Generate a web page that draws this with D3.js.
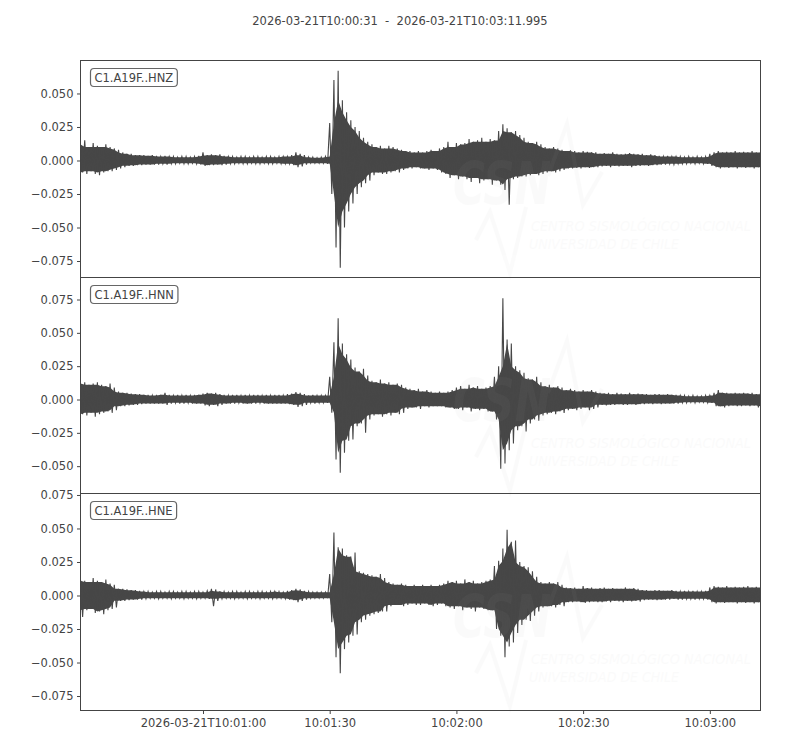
<!DOCTYPE html>
<html><head><meta charset="utf-8">
<script src="https://cdn.jsdelivr.net/npm/d3@7"></script>
<style>body{margin:0;background:#fff} text{font-family:"DejaVu Sans",sans-serif}</style>
</head><body><svg id="c" width="800" height="750"></svg>
<script>
// ---------- data (amplitudes in units of 0.001, one envelope sample per second) ----------
const TITLE = "2026-03-21T10:00:31  -  2026-03-21T10:03:11.995";
const UNIT = 0.001;
const SAMPLE_STEP_MS = 1000;
const channels = ["C1.A19F..HNZ", "C1.A19F..HNN", "C1.A19F..HNE"];

const hnzUpper = [12,15,10,13,11,10,12,10,9,8, 6,5,5,4,4,4,3.5,4,3.5,3,3.5, 3,3,2.5,3,3,2.5,3,3.5, 6, 4,4.5,4,4.5,3.5,
  3,3,2.5,3,3,2.5,3,3,2.5,3,3,2.5,3,3,3, 4,6,5,4, 2.5,2.5,2,2.5,3, 28,60,67,45,36,30,25,22,17,14,
  12,10,11,9,11,10,9, 8,7,7,6,7,6,7,8,7, 9,10,14,10,13,12, 13,16,14,15,17,14,16,15, 22,27,24, 21,22,19,17,
  14,13,14,12, 10,9,10,9,8, 7,7.5,7,6,7,6.5,6, 6,5,5.5,5,6,5,4.5,5,5.5,5,4.5,5,4,4.5,4,
  3.5,3,3.5,3,3,3,2.5,3,2.5,3,2.5,3, 5,6,7,6,6.5,6,7,6,6.5,6,7,6,6.5];
const hnzLower = [-9,-10,-8,-10,-11,-9,-8,-8,-7,-6, -5,-4,-4,-3.5,-3.5,-3,-3,-3,-3,-2.5,-3, -2.5,-2.5,-2,-2.5,-2.5,-2,-2.5,-3, -4,
  -3.5,-3.5,-3,-3.5,-3, -2.5,-2.5,-2,-2.5,-2.5,-2,-2.5,-2.5,-2,-2.5,-2.5,-2,-2.5,-2.5,-2.5, -3.5,-5,-4.5,-3, -2,-2,-2,-2,-2.5,
  -25,-65,-80,-50,-38,-32,-25,-20,-17,-15, -11,-9,-10,-10,-9,-8,-9, -7,-6,-6,-5,-6,-6,-7,-6,-7, -9,-10,-13,-11,-14,-12,
  -14,-16,-13,-17,-15,-14,-18,-15, -18,-22,-33, -14,-13,-12,-12, -11,-10,-11,-10, -9,-8,-9,-8,-7, -6,-6,-5.5,-6,-5,-5.5,-5,
  -5,-4.5,-4,-5,-4,-4.5,-4,-4,-5,-4,-4,-3.5,-4,-3.5,-3.5, -3,-3,-2.5,-3,-2.5,-2.5,-2.5,-2,-2.5,-2,-2.5,-2.5,
  -4,-5,-6,-5,-5.5,-5,-6,-5,-5.5,-5,-6,-5,-5.5];

const hnnUpper = [12,13,11,12,13,11,10,12,9, 6,5,5,4.5,4,4, 3.5,3.5,3,3.5,3.5, 5, 3.5,3,3.5,3,3.5,3,3.5,3.5, 4.5,5,4.5,5,4,
  3.5,3,3.5,3.5,3,3.5,3,3.5,3.5,3,3.5,3,3.5,3.5,3,4, 4.5,5.5,5,4, 3,3.5,3,3,3, 17,43,61,42,34,30,24,21,23,18,
  14,13,15,12,13,11,12,11, 9,8,7,8,6,7,6,5,6,5,6,7, 9,10,8,11,9,10,8,9,
  10,17,25,76,45,42,25,22,20,16,15,17,13, 10,11,9,10,9, 7,8,7,6,7,6,7,6,
  5,4.5,5,4,5,4.5,4,5,4,4.5,4,4,3.5,4,4,3.5,4,3.5,3.5, 3,3,2.5,3,2.5,2.5,3,3, 5,7,5,5,4.5,5,4.5,5,4.5,5,4,5];
const hnnLower = [-11,-12,-10,-13,-11,-10,-9,-10,-8, -5,-5,-4.5,-4,-4,-3.5, -3,-3,-3,-3,-3, -4, -3,-2.5,-3,-3,-2.5,-3,-3,-3,
  -4.5,-5,-4,-5,-4, -3,-3,-3,-2.5,-3,-3,-3,-3,-2.5,-3,-3,-3,-3,-3,-3,-3.5, -4,-5.5,-5,-4, -2.5,-3,-2.5,-2.5,-2.5,
  -10,-45,-55,-40,-31,-30,-20,-18,-25,-15, -12,-11,-13,-11,-12,-10,-11,-10, -7,-6,-6,-7,-5,-6,-5,-5,-5,-6,-6,-7,
  -7,-8,-6,-9,-7,-8,-7,-9, -9,-15,-52,-48,-38,-33,-23,-20,-24,-18,-15,-16,-12, -11,-10,-11,-9,-10, -8,-7,-8,-7,-6,-8,-7,-6,
  -4,-4.5,-4,-4,-3.5,-4,-4,-3.5,-4,-3.5,-3.5,-3,-3.5,-3,-3.5,-3,-3,-3,-3, -2.5,-2.5,-2,-2.5,-2,-2,-2.5,-2.5,
  -5,-5,-6,-5,-4.5,-5,-5,-4.5,-5,-4.5,-6,-5];

const hneUpper = [12,11,10,13,11,10,12,9,8, 5,5,4.5,4,4,3.5, 3,3,2.5,3,3,2.5,3,3,2.5,3,3,2.5,3,3,2.5,3.5, 5,4.5,
  3,3,2.5,3,3,2.5,3,3,2.5,3,3,2.5,3,3,3,2.5,3.5, 4,5,4.5,3.5, 3,2.5,2.5,2.5,2.5, 16,47,36,35,30,29,32,18,17,16,
  15,14,16,13, 10,9,8,9,8,7,8,7,8,7,8,7,8,9, 11,10,11,9,12,10,11,9,10,11,12, 22,26,35,49,40,41,25,22,21,18,14,
  10,9,10,9,10,8, 6,5.5,6,5,7,5.5,6,5,5.5,6,5,5.5,5,5,6,5,5.5,5, 4,4,3.5,4,4,3.5,3.5,4,3.5,3,3.5,3,3.5,3,3,3.5,
  6,7,6.5,6,7,6,6.5,6,6.5,7,6,6.5,6];
const hneLower = [-16,-11,-10,-13,-12,-14,-11,-10,-9, -4,-4,-3.5,-3,-3,-3, -2.5,-2,-2,-2.5,-2,-2,-2.5,-2,-2,-2.5,-2,-2,-2.5,-2,-2,-2.5,
  -8,-4, -2.5,-2,-2,-2.5,-2,-2,-2.5,-2,-2,-2.5,-2,-2,-2.5,-2,-2,-2.5,-3, -3.5,-5,-4,-3, -2,-2,-2,-2,-2,
  -20,-46,-58,-40,-35,-30,-29,-20,-18,-15, -14,-13,-12,-12, -8,-7,-7,-8,-7,-6,-7,-7,-6,-7,-8,-7,-6,-8,
  -9,-10,-8,-11,-9,-10,-12,-9,-10,-11,-11, -25,-30,-46,-38,-35,-28,-22,-18,-19,-15,-12, -9,-8,-8,-9,-7,-8,
  -5,-5,-4.5,-5,-5.5,-5,-4.5,-5,-5,-4.5,-5,-4,-4.5,-5,-4,-4.5,-4,-4.5,
  -3.5,-3,-3,-3.5,-3,-3,-3,-2.5,-3,-3,-2.5,-2.5,-3,-2.5,-2.5,-3, -5,-6,-5,-5.5,-5,-5,-6,-5,-5.5,-5,-6,-5,-5.5];

const upperSeries = [hnzUpper, hnnUpper, hneUpper];
const lowerSeries = [hnzLower, hnnLower, hneLower];
const yTickValues = [
  [0.050, 0.025, 0.000, -0.025, -0.050, -0.075],
  [0.075, 0.050, 0.025, 0.000, -0.025, -0.050],
  [0.075, 0.050, 0.025, 0.000, -0.025, -0.050, -0.075]
];
const yDomains = [[-0.0873, 0.0746], [-0.0705, 0.0915], [-0.0858, 0.0761]];
const xTickLabels = ["2026-03-21T10:01:00", "10:01:30", "10:02:00", "10:02:30", "10:03:00"];
const xTickTimes = ["2026-03-21T10:01:00Z", "2026-03-21T10:01:30Z", "2026-03-21T10:02:00Z", "2026-03-21T10:02:30Z", "2026-03-21T10:03:00Z"];
const startTime = "2026-03-21T10:00:31Z", endTime = "2026-03-21T10:03:11.995Z";

// ---------- layout ----------
const svg = d3.select("#c");
const left = 80.5, right = 760.5;
const panelTops = [60.5, 277.5, 493.5], panelBottom = 710.5;
const ink = "#444444", wave = "#474747";
const fontSize = 11.5;

const x = d3.scaleUtc().domain([new Date(startTime), new Date(endTime)]).range([left, right]);
const t0 = +new Date(startTime);

svg.append("text").attr("x", 400).attr("y", 25).attr("text-anchor", "middle")
  .attr("font-size", fontSize).attr("fill", ink).attr("xml:space", "preserve").text(TITLE);

const defs = svg.append("defs");

channels.forEach((name, k) => {
  const top = panelTops[k];
  const bottom = k < 2 ? panelTops[k + 1] : panelBottom;
  const y = d3.scaleLinear().domain(yDomains[k]).range([bottom, top]);
  const up = upperSeries[k], lo = lowerSeries[k];
  const n = up.length;
  const pts = up.map((u, i) => {
    const a = Math.max(0, i - 1), b = Math.min(n - 1, i + 1);
    return {
      t: t0 + i * SAMPLE_STEP_MS,
      u: u * UNIT, l: lo[i] * UNIT,
      cu: d3.min(up.slice(a, b + 1)) * UNIT,   // solid body: smallest neighbouring peak
      cl: d3.max(lo.slice(a, b + 1)) * UNIT
    };
  });

  defs.append("clipPath").attr("id", "clip" + k).append("rect")
    .attr("x", left).attr("y", top).attr("width", right - left).attr("height", bottom - top);

  const g = svg.append("g").attr("clip-path", `url(#clip${k})`);
  g.append("path").datum(pts)
    .attr("d", d3.area().x(d => x(new Date(d.t))).y0(d => y(d.cl)).y1(d => y(d.cu)))
    .attr("fill", wave);
  const zig = [];
  pts.forEach(d => { zig.push([d.t, d.u]); zig.push([d.t + SAMPLE_STEP_MS / 2, d.l]); });
  g.append("path").datum(zig)
    .attr("d", d3.line().x(d => x(new Date(d[0]))).y(d => y(d[1])))
    .attr("fill", "none").attr("stroke", wave).attr("stroke-width", 1.1);

  // faint watermark over the trace
  const wm = svg.append("g").attr("fill", "#b0b0b0").attr("opacity", 0.05);
  const oy = top - 60.5;
  wm.append("text").attr("x", 453).attr("y", oy + 204).attr("font-size", 58).attr("font-weight", "bold")
    .attr("font-style", "italic").attr("textLength", 98).attr("lengthAdjust", "spacingAndGlyphs").text("CSN");
  wm.append("text").attr("x", 531).attr("y", oy + 231).attr("font-size", 14).attr("font-style", "italic")
    .attr("textLength", 220).attr("lengthAdjust", "spacingAndGlyphs").text("CENTRO SISMOLÓGICO NACIONAL");
  wm.append("text").attr("x", 529).attr("y", oy + 249).attr("font-size", 14).attr("font-style", "italic")
    .attr("textLength", 150).attr("lengthAdjust", "spacingAndGlyphs").text("UNIVERSIDAD DE CHILE");
  wm.append("path").attr("fill", "none").attr("stroke", "#b0b0b0").attr("stroke-width", 4)
    .attr("d", `M476,${oy+240} L490,${oy+212} L510,${oy+273} L526,${oy+207} M548,${oy+176} L567,${oy+124} L583,${oy+205} L602,${oy+172}`);

  // frame
  svg.append("rect").attr("x", left).attr("y", top).attr("width", right - left).attr("height", bottom - top)
    .attr("fill", "none").attr("stroke", ink).attr("stroke-width", 1);

  // y axis
  const ya = svg.append("g").attr("transform", `translate(${left},0)`)
    .call(d3.axisLeft(y).tickValues(yTickValues[k]).tickFormat(d3.format(".3f")).tickSize(3.5).tickPadding(3.5));
  ya.select(".domain").remove();
  ya.selectAll("line").attr("stroke", ink);
  ya.selectAll("text").attr("fill", ink).attr("font-size", fontSize).attr("font-family", "DejaVu Sans");

  // channel label box
  const lbl = svg.append("g");
  const tx = lbl.append("text").attr("x", left + 14).attr("y", top + 21).attr("font-size", fontSize).attr("fill", ink).text(name);
  const bb = tx.node().getBBox();
  lbl.insert("rect", "text").attr("x", bb.x - 4).attr("y", bb.y - 2).attr("width", bb.width + 8).attr("height", bb.height + 4)
    .attr("rx", 3.5).attr("fill", "#fff").attr("stroke", "#666").attr("stroke-width", 1.2);
});

// x axis
const xa = svg.append("g").attr("transform", `translate(0,${panelBottom})`)
  .call(d3.axisBottom(x).tickValues(xTickTimes.map(s => new Date(s))).tickFormat((d, i) => xTickLabels[i]).tickSize(3.5).tickPadding(5));
xa.select(".domain").remove();
xa.selectAll("line").attr("stroke", ink);
xa.selectAll("text").attr("fill", ink).attr("font-size", fontSize).attr("font-family", "DejaVu Sans");
</script></body></html>
